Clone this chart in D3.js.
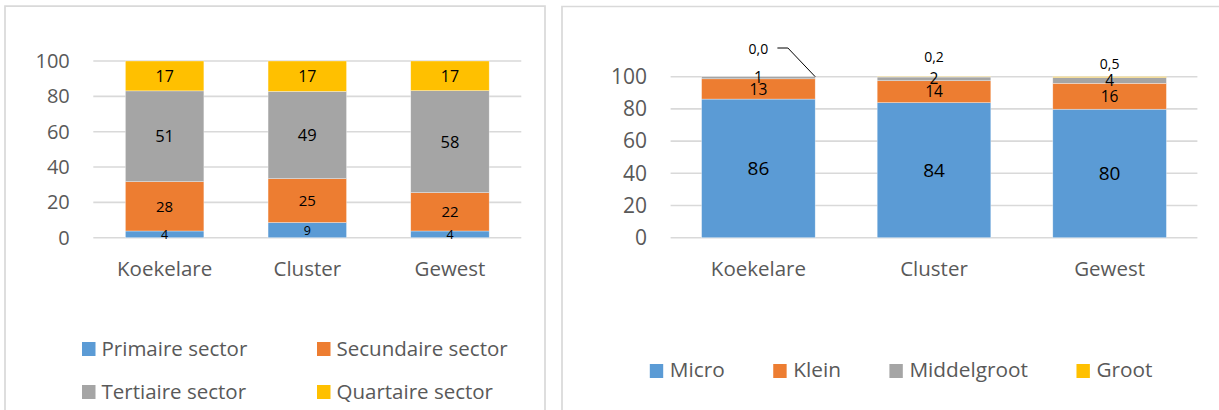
<!DOCTYPE html>
<html>
<head>
<meta charset="utf-8">
<script src="https://cdn.jsdelivr.net/npm/d3@7"></script>
<style>
  html, body { margin: 0; padding: 0; background: #fff; }
  svg { display: block; font-family: "Open Sans", "Noto Sans", sans-serif; }
</style>
</head>
<body>
<svg id="chart" width="1219" height="410"></svg>
<script>
// ---- Data: sector shares (%) ----
const regions = ["Koekelare", "Cluster", "Gewest"];
const sectorNames = ["Primaire sector", "Secundaire sector", "Tertiaire sector", "Quartaire sector"];
const primaire   = [3.8, 8.6, 3.8];
const secundaire = [27.9, 24.8, 21.7];
const tertiaire  = [51.4, 49.4, 57.7];
const quartaire  = [16.9, 17.2, 16.8];

// ---- Data: company size shares (%) ----
const sizeNames = ["Micro", "Klein", "Middelgroot", "Groot"];
const micro       = [86.1, 83.9, 79.8];
const klein       = [12.6, 13.6, 16.1];
const middelgroot = [1.3, 2.3, 3.6];
const groot       = [0.0, 0.2, 0.5];

const yTicks = [0, 20, 40, 60, 80, 100];

const colors = ["#5B9BD5", "#ED7D31", "#A5A5A5", "#FFC000"];
const textGrey = "#595959";
const gridGrey = "#D9D9D9";

const svg = d3.select("#chart");

// panel frames
svg.append("path")
  .attr("d", "M5,412 V6.2 H545 V412")
  .attr("fill", "none").attr("stroke", gridGrey).attr("stroke-width", 1.7);
svg.append("path")
  .attr("d", "M562,412 V6.5 H1225")
  .attr("fill", "none").attr("stroke", gridGrey).attr("stroke-width", 1.7);

function buildRows(names, series) {
  return regions.map((r, i) => {
    const row = { region: r };
    names.forEach((n, k) => { row[n] = series[k][i]; });
    return row;
  });
}

function drawStacked(opts) {
  const { names, series, x0, x1, yTop, yBottom, padding, tickFont, labelFonts, labelFormat } = opts;
  const rows = buildRows(names, series);
  const stacked = d3.stack().keys(names)(rows);

  const x = d3.scaleBand().domain(regions).range([x0, x1]).paddingInner(padding).paddingOuter(padding / 2);
  const y = d3.scaleLinear().domain([0, 100]).range([yBottom, yTop]);

  const g = svg.append("g");

  // gridlines
  g.append("g").selectAll("line").data(yTicks).join("line")
    .attr("x1", x0).attr("x2", x1)
    .attr("y1", d => y(d)).attr("y2", d => y(d))
    .attr("stroke", gridGrey).attr("stroke-width", 1.6);

  // y axis labels
  const yAxis = g.append("g")
    .attr("transform", `translate(${x0 - 23.5},0)`)
    .call(d3.axisLeft(y).tickValues(yTicks).tickSize(0).tickPadding(0));
  yAxis.select(".domain").remove();
  yAxis.selectAll("text")
    .attr("fill", textGrey)
    .style("font-size", tickFont + "px")
    .style("font-family", "'Open Sans', sans-serif");

  // bars
  const layers = g.append("g").selectAll("g").data(stacked).join("g")
    .attr("fill", (d, i) => colors[i]);
  layers.selectAll("rect").data(d => d).join("rect")
    .attr("x", d => x(d.data.region))
    .attr("width", x.bandwidth())
    .attr("y", d => y(d[1]))
    .attr("height", d => Math.max(0, y(d[0]) - y(d[1])))
    .attr("stroke", "#ffffff").attr("stroke-width", 0.6).attr("stroke-opacity", 0.55);

  // category labels
  g.append("g").selectAll("text").data(regions).join("text")
    .attr("x", d => x(d) + x.bandwidth() / 2)
    .attr("y", 276)
    .attr("text-anchor", "middle")
    .attr("fill", textGrey)
    .style("font-size", "20.5px")
    .text(d => d);

  return { x, y, g, stacked };
}

// ---------- Left chart: sectors ----------
const left = drawStacked({
  names: sectorNames,
  series: [primaire, secundaire, tertiaire, quartaire],
  x0: 93.3, x1: 521.3, yTop: 61, yBottom: 237.7,
  padding: 0.45, tickFont: 20
});
{
  const sizes = [12.5, 15, 16.5, 16];
  left.stacked.forEach((layer, k) => {
    left.g.append("g").selectAll("text").data(layer).join("text")
      .attr("x", d => left.x(d.data.region) + left.x.bandwidth() / 2)
      .attr("y", d => (left.y(d[0]) + left.y(d[1])) / 2)
      .attr("dy", "0.36em")
      .attr("text-anchor", "middle")
      .attr("fill", "#000")
      .style("font-size", sizes[k] + "px")
      .text(d => d3.format(".0f")(d[1] - d[0]));
  });

  // legend (2 x 2)
  const legendPos = [[82, 349], [317, 349], [82, 392], [317, 392]];
  const lg = svg.append("g");
  sectorNames.forEach((n, i) => {
    const [lx, ly] = legendPos[i];
    lg.append("rect").attr("x", lx).attr("y", ly - 7).attr("width", 13.5).attr("height", 14)
      .attr("fill", colors[i]);
    lg.append("text").attr("x", lx + 19.5).attr("y", ly + 6.5)
      .attr("fill", textGrey).style("font-size", "20.5px").text(n);
  });
}

// ---------- Right chart: company sizes ----------
const right = drawStacked({
  names: sizeNames,
  series: [micro, klein, middelgroot, groot],
  x0: 670.6, x1: 1197.4, yTop: 76.7, yBottom: 237.7,
  padding: 0.353, tickFont: 21
});
{
  const sizes = [19, 15.5, 15.5];
  const comma = d3.formatLocale({ decimal: ",", thousands: ".", grouping: [3], currency: ["€", ""] });
  // in-bar labels for the three lower layers
  right.stacked.slice(0, 3).forEach((layer, k) => {
    right.g.append("g").selectAll("text").data(layer).join("text")
      .attr("x", d => right.x(d.data.region) + right.x.bandwidth() / 2)
      .attr("y", d => (right.y(d[0]) + right.y(d[1])) / 2)
      .attr("dy", "0.36em")
      .attr("text-anchor", "middle")
      .attr("fill", "#000")
      .style("font-size", sizes[k] + "px")
      .text(d => d3.format(".0f")(d[1] - d[0]));
  });

  // "Groot" labels sit above the bars
  const lift = [28, 19.5, 12.8];
  const grootLayer = right.stacked[3];
  const fmt = comma.format(".1f");
  grootLayer.forEach((d, i) => {
    const cx = right.x(d.data.region) + right.x.bandwidth() / 2;
    const cy = right.y(d[1]) - lift[i];
    right.g.append("text")
      .attr("x", cx).attr("y", cy).attr("dy", "0.36em")
      .attr("text-anchor", "middle").attr("fill", "#000")
      .style("font-size", "14px")
      .text(fmt(d[1] - d[0]));
    if (i === 0) {
      const bx = right.x(d.data.region) + right.x.bandwidth();
      const by = right.y(d[1]);
      right.g.append("path")
        .attr("d", `M${cx + 19},${cy - 0.7} H${cx + 29.5} L${bx},${by}`)
        .attr("fill", "none").attr("stroke", "#000").attr("stroke-width", 1);
    }
  });

  // legend (single row)
  const lg = svg.append("g");
  let lx = 649.8;
  sizeNames.forEach((n, i) => {
    lg.append("rect").attr("x", lx).attr("y", 364).attr("width", 13.4).attr("height", 14)
      .attr("fill", colors[i]);
    const t = lg.append("text").attr("x", lx + 20).attr("y", 377)
      .attr("fill", textGrey).style("font-size", "20.8px").text(n);
    lx += 20 + t.node().getComputedTextLength() + 48.5;
  });
}
</script>
</body>
</html>
